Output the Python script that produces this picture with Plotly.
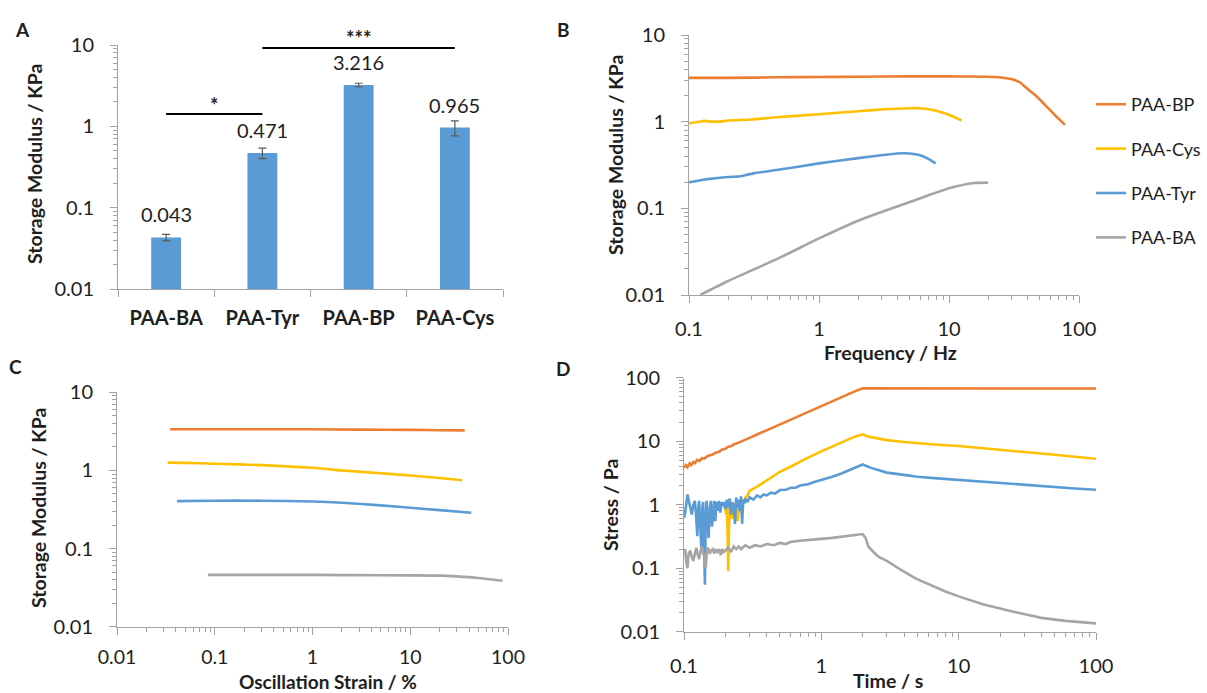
import numpy as np
import plotly.graph_objects as go

# ---------------- data ----------------
# Panel A: plateau storage modulus (kPa)
A_CATS = ["PAA-BA", "PAA-Tyr", "PAA-BP", "PAA-Cys"]
A_VALUES = [0.043, 0.471, 3.216, 0.965]
A_ERRORS = [0.004, 0.07, 0.17, 0.2]
SIG_LOW = ["PAA-BA", "PAA-Tyr"]
SIG_LOW_LEVEL = 1.42
SIG_LOW_TEXT = "*"
SIG_HIGH = ["PAA-Tyr", "PAA-Cys"]
SIG_HIGH_LEVEL = 9.2
SIG_HIGH_TEXT = "***"

SERIES = ["PAA-BP", "PAA-Cys", "PAA-Tyr", "PAA-BA"]

# Panel B: frequency sweep, storage modulus (kPa) vs frequency (Hz)
B_BP_F = [0.1, 0.2, 0.5, 1, 2, 5, 10, 15, 20, 25, 30, 35, 40, 46, 55, 65, 78]
B_BP_G = [3.2, 3.2, 3.25, 3.28, 3.3, 3.33, 3.33, 3.32, 3.3, 3.24, 3.1, 2.85, 2.4, 2.03, 1.55, 1.2, 0.92]
B_CYS_F = [0.1, 0.12, 0.13, 0.15, 0.17, 0.2, 0.3, 0.5, 1, 2, 3, 5, 6, 8, 10, 12.5]
B_CYS_G = [0.96, 1.0, 1.02, 1.0, 1.0, 1.03, 1.06, 1.13, 1.22, 1.32, 1.38, 1.43, 1.43, 1.34, 1.2, 1.03]
B_TYR_F = [0.1, 0.12, 0.15, 0.2, 0.25, 0.28, 0.32, 0.5, 1, 2, 3, 4, 5, 6, 7, 7.9]
B_TYR_G = [0.2, 0.21, 0.22, 0.23, 0.235, 0.245, 0.255, 0.28, 0.33, 0.38, 0.41, 0.43, 0.43, 0.41, 0.37, 0.33]
B_BA_F = [0.122, 0.2, 0.5, 1, 2, 5, 10, 15, 20]
B_BA_G = [0.01, 0.0145, 0.027, 0.045, 0.072, 0.118, 0.17, 0.195, 0.198]

# Panel C: amplitude sweep, storage modulus (kPa) vs oscillation strain (%)
C_BP_X = [0.035, 0.1, 0.3, 1, 3, 10, 20, 36]
C_BP_G = [3.36, 3.36, 3.37, 3.36, 3.33, 3.3, 3.27, 3.26]
C_CYS_X = [0.033, 0.05, 0.1, 0.3, 1, 2, 5, 10, 20, 34]
C_CYS_G = [1.26, 1.25, 1.22, 1.17, 1.08, 1.0, 0.92, 0.86, 0.8, 0.75]
C_TYR_X = [0.041, 0.1, 0.3, 1, 2, 5, 10, 20, 42]
C_TYR_G = [0.405, 0.41, 0.41, 0.4, 0.386, 0.357, 0.333, 0.31, 0.287]
C_BA_X = [0.085, 0.3, 1, 5, 20, 30, 50, 88]
C_BA_G = [0.046, 0.046, 0.046, 0.0455, 0.045, 0.044, 0.042, 0.0387]

# Panel D: stress relaxation, stress (Pa) vs time (s)
D_BP_T = [0.1, 0.103, 0.106, 0.11, 0.113,
          0.117, 0.12, 0.125, 0.13, 0.135,
          0.14, 0.15, 0.16, 0.17, 0.18,
          0.19, 0.2, 0.21, 0.22, 0.23,
          0.25, 0.27, 0.3, 0.35, 0.4,
          0.5, 0.6, 0.7, 0.85, 1.0,
          1.2, 1.5, 1.75, 2.0, 2.2,
          3, 5, 10, 20, 50,
          100]
D_BP_S = [3.8, 4.2, 3.9, 4.5, 4.2,
          4.7, 4.5, 5.1, 4.9, 5.4,
          5.3, 5.9, 6.1, 6.6, 6.8,
          7.4, 7.6, 8.2, 8.3, 8.9,
          9.5, 10.3, 11.3, 13.1, 14.9,
          18.5, 22.0, 25.5, 30.8, 35.9,
          42.7, 52.7, 61.0, 68.0, 68.0,
          67.8, 67.9, 67.7, 67.8, 67.6,
          67.5]

D_CYS_T = [0.200, 0.203, 0.206, 0.208, 0.210,
           0.212, 0.214, 0.217, 0.220, 0.223,
           0.226, 0.229, 0.232, 0.236, 0.240,
           0.245, 0.250, 0.255, 0.260, 0.265,
           0.270, 0.280, 0.290, 0.300, 0.350,
           0.400, 0.450, 0.500, 0.600, 0.700,
           0.800, 1.00, 1.20, 1.50, 1.80,
           2.00, 2.20, 2.50, 3.0, 4.0,
           5.0, 7.0, 10, 15, 20,
           30, 50, 70, 100]
D_CYS_S = [0.85, 0.7, 0.95, 0.4, 0.09,
           0.3, 0.9, 0.75, 1.0, 0.6,
           0.95, 0.8, 1.05, 0.7, 1.0,
           0.55, 0.9, 1.1, 0.75, 1.2,
           1.05, 1.3, 1.4, 1.65, 2.0,
           2.4, 2.9, 3.3, 4.0, 4.8,
           5.5, 6.9, 8.3, 10.2, 12.0,
           12.8, 11.8, 11.1, 10.4, 9.7,
           9.3, 8.8, 8.4, 7.7, 7.3,
           6.7, 6.1, 5.7, 5.3]

D_TYR_T = [0.100, 0.102, 0.104, 0.106, 0.108,
           0.111, 0.114, 0.117, 0.120, 0.122,
           0.125, 0.127, 0.129, 0.131, 0.134,
           0.136, 0.138, 0.140, 0.142, 0.144,
           0.146, 0.148, 0.151, 0.154, 0.157,
           0.160, 0.163, 0.166, 0.169, 0.172,
           0.176, 0.180, 0.184, 0.188, 0.192,
           0.196, 0.200, 0.205, 0.210, 0.215,
           0.220, 0.225, 0.230, 0.235, 0.240,
           0.245, 0.250, 0.255, 0.260, 0.265,
           0.270, 0.275, 0.280, 0.290, 0.300,
           0.320, 0.340, 0.360, 0.380, 0.400,
           0.430, 0.460, 0.500, 0.550, 0.600,
           0.650, 0.700, 0.800, 0.900, 1.00,
           1.20, 1.40, 1.60, 1.80, 2.00,
           2.30, 2.70, 3.0, 4.0, 5.0,
           7.0, 10, 15, 20, 30,
           50, 70, 100]
D_TYR_S = [0.62, 0.75, 1.05, 1.45, 1.2,
           0.85, 0.7, 1.0, 1.15, 0.75,
           0.32, 0.9, 1.15, 0.5, 0.19,
           0.9, 1.1, 0.25, 0.055, 0.6,
           1.15, 0.6, 0.3, 0.9, 1.15,
           0.45, 0.7, 1.15, 0.55, 1.1,
           0.8, 1.15, 0.75, 1.1, 0.95,
           1.1, 0.85, 1.2, 0.9, 1.25,
           0.7, 1.1, 0.95, 0.5, 1.3,
           0.9, 1.2, 0.8, 1.35, 0.5,
           1.2, 1.05, 1.25, 1.1, 1.3,
           1.2, 1.4, 1.3, 1.45, 1.4,
           1.55, 1.5, 1.7, 1.72, 1.85,
           1.85, 2.0, 2.1, 2.3, 2.45,
           2.75, 3.1, 3.5, 3.9, 4.3,
           3.8, 3.4, 3.2, 2.95, 2.75,
           2.6, 2.45, 2.3, 2.2, 2.05,
           1.92, 1.8, 1.72]

D_BA_T = [0.100, 0.102, 0.104, 0.106, 0.108,
          0.111, 0.114, 0.117, 0.120, 0.123,
          0.126, 0.129, 0.132, 0.135, 0.138,
          0.141, 0.144, 0.147, 0.150, 0.154,
          0.158, 0.162, 0.166, 0.170, 0.175,
          0.180, 0.185, 0.190, 0.195, 0.200,
          0.210, 0.220, 0.230, 0.240, 0.250,
          0.260, 0.280, 0.300, 0.330, 0.360,
          0.400, 0.450, 0.500, 0.550, 0.600,
          0.700, 0.800, 0.900, 1.00, 1.20,
          1.50, 1.80, 2.00, 2.10, 2.20,
          2.40, 2.60, 3.0, 3.5, 4.0,
          4.85, 6.0, 8.0, 10, 15,
          25, 40, 60, 100]
D_BA_S = [0.17, 0.2, 0.12, 0.1, 0.17,
          0.19, 0.15, 0.13, 0.17, 0.21,
          0.16, 0.14, 0.19, 0.22, 0.17,
          0.15, 0.1, 0.19, 0.21, 0.17,
          0.19, 0.2, 0.17, 0.2, 0.18,
          0.2, 0.16, 0.2, 0.18, 0.19,
          0.21, 0.18, 0.22, 0.2, 0.22,
          0.2, 0.23, 0.21, 0.23, 0.22,
          0.24, 0.23, 0.25, 0.24, 0.26,
          0.27, 0.275, 0.28, 0.29, 0.3,
          0.32, 0.33, 0.345, 0.3, 0.22,
          0.18, 0.152, 0.13, 0.105, 0.088,
          0.069, 0.056, 0.043, 0.036, 0.027,
          0.0207, 0.0165, 0.0148, 0.0135]

# tick labels for the decade ticks
DECADE_LABELS = {-2: "0.01", -1: "0.1", 0: "1", 1: "10", 2: "100"}

# ---------------- styling ----------------
W, H = 1207, 693
FONT = "Lato"
TXT = "#1e1e1e"
AX = "#a3a3a3"
COLORS = {"PAA-BP": "#ED7D31", "PAA-Cys": "#FFC000", "PAA-Tyr": "#5B9BD5", "PAA-BA": "#A5A5A5"}
BAR_COLOR = "#5B9BD5"
LW = 2.6


def px(x):
    return x / W


def py(y):
    return 1 - y / H


def log_axis(lo, hi, domain, anchor, standoff, size=20):
    majors = [10.0 ** k for k in range(lo, hi + 1)]
    minors = [m * 10.0 ** k for k in range(lo, hi) for m in range(2, 10)]
    return dict(
        type="log", range=[lo, hi], domain=domain, anchor=anchor, automargin=False,
        tickmode="array", tickvals=majors,
        ticktext=[DECADE_LABELS[k] for k in range(lo, hi + 1)],
        showline=True, linecolor=AX, linewidth=1,
        ticks="outside", ticklen=7, tickcolor=AX, tickwidth=1,
        minor=dict(tickmode="array", tickvals=minors, ticks="outside",
                   ticklen=4, tickcolor=AX, tickwidth=1, showgrid=False),
        showgrid=False, zeroline=False, mirror=False,
        tickfont=dict(family=FONT, size=size, color=TXT),
        ticklabelstandoff=standoff,
    )


fig = go.Figure()

# ---- A: bars with error bars
fig.add_trace(go.Bar(
    x=A_CATS, y=A_VALUES, marker=dict(color=BAR_COLOR, line=dict(width=0)),
    error_y=dict(type="data", array=A_ERRORS, color="#5a5a5a", thickness=1.2, width=4),
    width=0.31, xaxis="x", yaxis="y", showlegend=False,
))
for cats, level in ((SIG_LOW, SIG_LOW_LEVEL), (SIG_HIGH, SIG_HIGH_LEVEL)):
    fig.add_trace(go.Scatter(
        x=cats, y=[level, level], mode="lines", line=dict(color="black", width=2),
        xaxis="x", yaxis="y", showlegend=False, cliponaxis=False,
    ))

# ---- B: frequency sweep (carries the legend)
for name, fx, gy in (("PAA-BP", B_BP_F, B_BP_G), ("PAA-Cys", B_CYS_F, B_CYS_G),
                     ("PAA-Tyr", B_TYR_F, B_TYR_G), ("PAA-BA", B_BA_F, B_BA_G)):
    fig.add_trace(go.Scatter(
        x=fx, y=gy, mode="lines", name=name, legendgroup=name,
        line=dict(color=COLORS[name], width=LW, shape="spline", smoothing=0.6),
        xaxis="x2", yaxis="y2",
    ))

# ---- C: amplitude sweep
for name, sx, gy in (("PAA-BP", C_BP_X, C_BP_G), ("PAA-Cys", C_CYS_X, C_CYS_G),
                     ("PAA-Tyr", C_TYR_X, C_TYR_G), ("PAA-BA", C_BA_X, C_BA_G)):
    fig.add_trace(go.Scatter(
        x=sx, y=gy, mode="lines", name=name, showlegend=False,
        line=dict(color=COLORS[name], width=LW, shape="spline", smoothing=0.6),
        xaxis="x3", yaxis="y3",
    ))

# ---- D: stress relaxation
for name, tx, sy in (("PAA-BP", D_BP_T, D_BP_S), ("PAA-Cys", D_CYS_T, D_CYS_S),
                     ("PAA-Tyr", D_TYR_T, D_TYR_S), ("PAA-BA", D_BA_T, D_BA_S)):
    fig.add_trace(go.Scatter(
        x=tx, y=sy, mode="lines", name=name, showlegend=False,
        line=dict(color=COLORS[name], width=LW),
        xaxis="x4", yaxis="y4",
    ))

# ---------------- annotations ----------------
ann = []
# value labels above each bar
for c, v in zip(A_CATS, A_VALUES):
    ann.append(dict(x=c, y=np.log10(v), xref="x", yref="y", text=f"{v:.3f}",
                    showarrow=False, yanchor="bottom", yshift=9,
                    font=dict(family=FONT, size=20, color=TXT)))
# significance stars
ann.append(dict(x=0.5, y=np.log10(SIG_LOW_LEVEL), xref="x", yref="y", text=f"<b>{SIG_LOW_TEXT}</b>",
                showarrow=False, yanchor="bottom", yshift=-5,
                font=dict(family=FONT, size=20, color=TXT)))
ann.append(dict(x=2.0, y=np.log10(SIG_HIGH_LEVEL), xref="x", yref="y", text=f"<b>{SIG_HIGH_TEXT}</b>",
                showarrow=False, yanchor="bottom", yshift=-4,
                font=dict(family=FONT, size=20, color=TXT)))


def text(x, y, s, size=20, angle=0, bold=True):
    ann.append(dict(x=px(x), y=py(y), xref="paper", yref="paper",
                    text=f"<b>{s}</b>" if bold else s, textangle=angle,
                    showarrow=False, xanchor="center", yanchor="middle",
                    borderpad=0,
                    font=dict(family=FONT, size=size, color=TXT)))


# panel letters
text(22, 30, "A", 19)
text(563, 30, "B", 19)
text(15, 366, "C", 19)
text(563, 368, "D", 19)
# axis titles
text(34, 164, "Storage Modulus / KPa", 19.5, -90)
text(615, 155, "Storage Modulus / KPa", 19.5, -90)
text(38, 508, "Storage Modulus / KPa", 19.5, -90)
text(610, 505, "Stress / Pa", 19.5, -90)
text(890, 352, "Frequency / Hz", 19.5)
text(328, 681, "Oscillation Strain / %", 19)
text(888, 680, "Time / s", 19.5)

# ---------------- layout ----------------
xa = dict(
    type="category", domain=[px(118), px(503)], anchor="y", range=[-0.5, 3.5],
    automargin=False,
    showline=True, linecolor=AX, linewidth=1, ticks="outside", ticklen=7,
    tickcolor=AX, tickson="boundaries", showgrid=False, zeroline=False,
    tickfont=dict(family=FONT, size=20, color=TXT, weight="bold"),
    ticklabelstandoff=11,
)

fig.update_layout(
    template="none",
    width=W, height=H, margin=dict(l=0, r=0, t=0, b=0, autoexpand=False),
    paper_bgcolor="white", plot_bgcolor="white",
    font=dict(family=FONT, color=TXT),
    bargap=0.69,
    xaxis=xa,
    yaxis=log_axis(-2, 1, [py(289), py(45)], "x", 12),
    xaxis2=log_axis(-1, 2, [px(689), px(1079)], "y2", 9),
    yaxis2=log_axis(-2, 1, [py(295), py(35)], "x2", 12),
    xaxis3=log_axis(-2, 2, [px(117), px(508)], "y3", 6, 19.5),
    yaxis3=log_axis(-2, 1, [py(626.7), py(392.3)], "x3", 12),
    xaxis4=log_axis(-1, 2, [px(684), px(1096)], "y4", 9),
    yaxis4=log_axis(-2, 2, [py(631.7), py(377.7)], "x4", 12),
    legend=dict(x=px(1091), y=py(86), xanchor="left", yanchor="top",
                font=dict(family=FONT, size=18, color=TXT),
                tracegroupgap=18, bgcolor="rgba(0,0,0,0)", itemwidth=30),
    annotations=ann,
)

fig.write_html("out.html")
